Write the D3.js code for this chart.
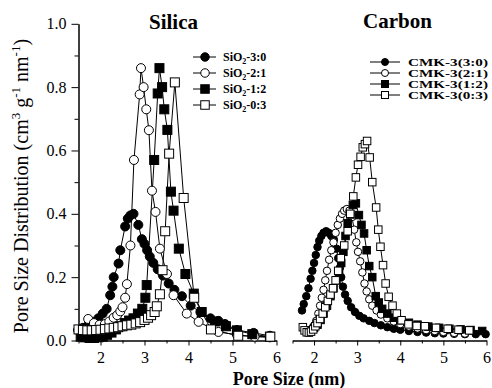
<!DOCTYPE html>
<html>
<head>
<meta charset="utf-8">
<script src="https://cdn.jsdelivr.net/npm/d3@7"></script>
<style>
  body { margin: 0; background: #fff; }
  svg { display: block; }
  svg text { font-family: "Liberation Serif", "DejaVu Serif", "Times New Roman", Times, serif; fill: #000; }
</style>
</head>
<body>
<svg id="chart" width="492" height="388"></svg>
<script>
// ---- data: [pore size nm, distribution] ----
const sio2_30 = [[1.49,0.033],[1.6,0.04],[1.72,0.048],[1.85,0.058],[1.95,0.07],[2.05,0.085],[2.14,0.10],[2.22,0.143],[2.27,0.17],[2.3,0.2],[2.41,0.243],[2.45,0.285],[2.56,0.36],[2.62,0.385],[2.68,0.395],[2.75,0.40],[2.86,0.365],[2.94,0.32],[3.0,0.305],[3.06,0.285],[3.12,0.265],[3.2,0.245],[3.3,0.225],[3.42,0.205],[3.55,0.18],[3.68,0.16],[3.85,0.14],[4.05,0.11],[4.27,0.09],[4.5,0.07],[4.68,0.062],[4.83,0.052],[5.1,0.033],[5.48,0.024],[5.85,0.015]];
const sio2_21 = [[1.72,0.068],[1.85,0.055],[1.98,0.05],[2.1,0.052],[2.2,0.06],[2.3,0.072],[2.38,0.08],[2.45,0.092],[2.5,0.105],[2.56,0.135],[2.6,0.178],[2.68,0.30],[2.76,0.57],[2.89,0.777],[2.92,0.86],[2.98,0.80],[3.04,0.73],[3.1,0.664],[3.17,0.473],[3.25,0.406],[3.35,0.29],[3.51,0.21],[3.66,0.143],[3.96,0.085],[4.23,0.059],[4.68,0.027],[5.1,0.018],[5.5,0.012],[5.85,0.01]];
const sio2_12 = [[1.55,0.012],[1.65,0.01],[1.75,0.008],[1.85,0.008],[1.95,0.01],[2.05,0.012],[2.15,0.018],[2.25,0.025],[2.35,0.035],[2.45,0.045],[2.55,0.055],[2.65,0.063],[2.75,0.07],[2.85,0.085],[2.95,0.1],[3.02,0.135],[3.05,0.175],[3.22,0.57],[3.3,0.78],[3.34,0.86],[3.4,0.8],[3.45,0.73],[3.52,0.665],[3.6,0.47],[3.66,0.41],[3.78,0.29],[3.93,0.21],[4.12,0.148],[4.3,0.09],[4.6,0.06],[4.85,0.045],[5.1,0.032],[5.45,0.02],[5.85,0.012]];
const sio2_03 = [[1.5,0.035],[1.6,0.033],[1.7,0.032],[1.8,0.032],[1.9,0.033],[2.0,0.034],[2.1,0.036],[2.2,0.038],[2.3,0.04],[2.4,0.042],[2.5,0.045],[2.6,0.048],[2.7,0.05],[2.8,0.054],[2.9,0.058],[3.0,0.065],[3.08,0.072],[3.15,0.08],[3.23,0.09],[3.28,0.108],[3.35,0.146],[3.41,0.222],[3.47,0.345],[3.56,0.59],[3.69,0.815],[3.89,0.45],[4.13,0.135],[4.51,0.035],[5.13,0.015],[5.86,0.012]];

const cmk_30 = [[1.72,0.095],[1.76,0.115],[1.82,0.14],[1.87,0.165],[1.92,0.195],[1.96,0.22],[2.0,0.245],[2.04,0.27],[2.08,0.295],[2.12,0.315],[2.17,0.33],[2.22,0.34],[2.28,0.345],[2.34,0.34],[2.4,0.33],[2.46,0.318],[2.52,0.29],[2.56,0.26],[2.6,0.23],[2.63,0.2],[2.67,0.17],[2.72,0.145],[2.78,0.125],[2.86,0.105],[2.95,0.09],[3.05,0.078],[3.15,0.07],[3.28,0.062],[3.4,0.055],[3.55,0.048],[3.7,0.042],[3.85,0.037],[4.0,0.034],[4.2,0.03],[4.4,0.027],[4.6,0.025],[4.8,0.023],[5.0,0.022],[5.25,0.021],[5.5,0.02],[5.75,0.02],[5.98,0.02]];
const cmk_21 = [[1.95,0.035],[2.0,0.045],[2.05,0.062],[2.1,0.085],[2.14,0.11],[2.18,0.135],[2.22,0.16],[2.26,0.19],[2.3,0.22],[2.35,0.255],[2.4,0.285],[2.45,0.31],[2.5,0.34],[2.55,0.365],[2.6,0.385],[2.65,0.4],[2.7,0.41],[2.76,0.415],[2.82,0.41],[2.88,0.39],[2.93,0.35],[2.98,0.31],[3.02,0.28],[3.07,0.25],[3.12,0.215],[3.17,0.18],[3.22,0.155],[3.28,0.13],[3.35,0.11],[3.45,0.095],[3.55,0.082],[3.7,0.07],[3.85,0.06],[4.0,0.052],[4.2,0.044],[4.4,0.038],[4.6,0.033],[4.8,0.03],[5.0,0.027],[5.25,0.024],[5.5,0.022]];
const cmk_12 = [[1.85,0.03],[1.92,0.032],[2.0,0.04],[2.08,0.05],[2.15,0.065],[2.22,0.085],[2.3,0.11],[2.38,0.14],[2.45,0.165],[2.52,0.19],[2.58,0.215],[2.63,0.245],[2.68,0.28],[2.73,0.33],[2.78,0.37],[2.84,0.398],[2.9,0.428],[2.97,0.433],[3.04,0.396],[3.1,0.365],[3.16,0.338],[3.22,0.285],[3.28,0.235],[3.35,0.2],[3.43,0.14],[3.5,0.12],[3.58,0.1],[3.7,0.085],[3.85,0.072],[4.0,0.064],[4.2,0.056],[4.4,0.05],[4.65,0.044],[4.9,0.04],[5.14,0.037],[5.4,0.035],[5.63,0.033],[5.9,0.03]];
const cmk_03 = [[1.74,0.042],[1.78,0.032],[1.83,0.026],[1.88,0.025],[1.93,0.028],[1.98,0.035],[2.03,0.045],[2.08,0.055],[2.14,0.068],[2.2,0.085],[2.26,0.105],[2.32,0.125],[2.38,0.145],[2.44,0.165],[2.5,0.19],[2.56,0.22],[2.62,0.26],[2.7,0.3],[2.78,0.345],[2.84,0.4],[2.91,0.455],[2.97,0.515],[3.02,0.555],[3.08,0.58],[3.13,0.61],[3.18,0.62],[3.23,0.63],[3.29,0.578],[3.35,0.5],[3.44,0.42],[3.49,0.35],[3.54,0.296],[3.6,0.238],[3.66,0.18],[3.73,0.138],[3.82,0.11],[3.92,0.085],[4.03,0.064],[4.19,0.051],[4.38,0.046],[4.57,0.045],[4.83,0.04],[5.1,0.037],[5.35,0.034],[5.6,0.032]];

const silicaLabels = ["-3:0", "-2:1", "-1:2", "-0:3"];   // shown after "SiO2"
const carbonLabels = ["CMK-3(3:0)", "CMK-3(2:1)", "CMK-3(1:2)", "CMK-3(0:3)"];
const xTicks = [2, 3, 4, 5, 6];
const xMinor = [1.5, 2.5, 3.5, 4.5, 5.5];
const yTicks = [0, 0.2, 0.4, 0.6, 0.8, 1.0];
const yMinor = [0.1, 0.3, 0.5, 0.7, 0.9];

// marker style for each of the four series (same order in both panels)
const markers = [
    { shape: "circle", fill: "#000" },
    { shape: "circle", fill: "#fff" },
    { shape: "square", fill: "#000" },
    { shape: "square", fill: "#fff" }
];

const svg = d3.select("#chart");
const y = d3.scaleLinear().domain([0, 1]).range([340.5, 23.8]);
const xLeft = d3.scaleLinear().domain([1.5, 6]).range([78.5, 276.5]);
const xRight = d3.scaleLinear().domain([1.5, 6]).range([292.5, 486.5]);

// Draw a marker of the given style at (cx, cy)
function drawMarker(g, m, cx, cy, size) {
    if (m.shape === "circle") {
        g.append("circle")
            .attr("cx", cx).attr("cy", cy).attr("r", size / 2)
            .attr("fill", m.fill).attr("stroke", "#000").attr("stroke-width", 1);
    } else {
        g.append("rect")
            .attr("x", cx - size / 2).attr("y", cy - size / 2)
            .attr("width", size).attr("height", size)
            .attr("fill", m.fill).attr("stroke", "#000").attr("stroke-width", 1);
    }
}

// Draw one panel: x axis, lines and markers
function drawPanel(x, seriesList, size) {
    const g = svg.append("g");

    // x-axis with major and minor ticks
    g.append("g")
        .attr("transform", `translate(0, ${y(0)})`)
        .call(d3.axisBottom(x).tickValues(xTicks).tickFormat(d3.format("d"))
            .tickSize(5).tickSizeOuter(0).tickPadding(6))
        .attr("font-family", null)
        .call(a => a.selectAll("text").attr("font-size", "16px"));
    g.append("g")
        .attr("transform", `translate(0, ${y(0)})`)
        .call(d3.axisBottom(x).tickValues(xMinor).tickSize(3).tickSizeOuter(0).tickFormat(""));

    const line = d3.line().x(d => x(d[0])).y(d => y(d[1]));

    seriesList.forEach(data => {
        g.append("path")
            .datum(data)
            .attr("d", line)
            .attr("fill", "none")
            .attr("stroke", "#000")
            .attr("stroke-width", 1);
    });
    seriesList.forEach((data, i) => {
        const mg = g.append("g");
        data.forEach(d => drawMarker(mg, markers[i], x(d[0]), y(d[1]), size));
    });
}

// y-axis on the left panel only
svg.append("g")
    .attr("transform", `translate(${xLeft(1.5)}, 0)`)
    .call(d3.axisLeft(y).tickValues(yTicks).tickFormat(d3.format(".1f")).tickSize(7).tickSizeOuter(0).tickPadding(5))
    .attr("font-family", null)
    .call(a => a.selectAll("text").attr("font-size", "16px"));
svg.append("g")
    .attr("transform", `translate(${xLeft(1.5)}, 0)`)
    .call(d3.axisLeft(y).tickValues(yMinor).tickSize(4).tickSizeOuter(0).tickFormat(""));

drawPanel(xLeft, [sio2_30, sio2_21, sio2_12, sio2_03], 9);
drawPanel(xRight, [cmk_30, cmk_21, cmk_12, cmk_03], 7.5);

// Panel titles
svg.append("text")
    .attr("x", 173.5).attr("y", 29)
    .attr("text-anchor", "middle")
    .attr("font-size", "21px").attr("font-weight", "bold")
    .text("Silica");
svg.append("text")
    .attr("x", 397.5).attr("y", 28)
    .attr("text-anchor", "middle")
    .attr("font-size", "21px").attr("font-weight", "bold")
    .text("Carbon");

// Left legend
silicaLabels.forEach((lab, i) => {
    const ly = 57 + i * 16;
    svg.append("line")
        .attr("x1", 193).attr("x2", 216).attr("y1", ly).attr("y2", ly)
        .attr("stroke", "#000");
    drawMarker(svg, markers[i], 205, ly, 8.5);
    const t = svg.append("text")
        .attr("x", 223).attr("y", ly + 4)
        .attr("font-size", "12px").attr("font-weight", "bold");
    t.append("tspan").text("SiO");
    t.append("tspan").attr("font-size", "8px").attr("dy", 3).text("2");
    t.append("tspan").attr("dy", -3).text(lab);
});

// Right legend
carbonLabels.forEach((lab, i) => {
    const ly = 62 + i * 11;
    svg.append("line")
        .attr("x1", 370).attr("x2", 400).attr("y1", ly).attr("y2", ly)
        .attr("stroke", "#000");
    drawMarker(svg, markers[i], 385, ly, 7);
    svg.append("text")
        .attr("x", 408).attr("y", ly + 3.5)
        .attr("font-size", "10.5px").attr("font-weight", "bold")
        .attr("textLength", 80).attr("lengthAdjust", "spacingAndGlyphs")
        .text(lab);
});

// x-axis label
svg.append("text")
    .attr("x", 289).attr("y", 385)
    .attr("text-anchor", "middle")
    .attr("font-size", "18px").attr("font-weight", "bold")
    .text("Pore Size (nm)");

// y-axis label with superscripts
const yl = svg.append("text")
    .attr("transform", "translate(28, 186) rotate(-90)")
    .attr("text-anchor", "middle")
    .attr("font-size", "20px");
yl.append("tspan").text("Pore Size Distribution (cm");
yl.append("tspan").attr("font-size", "13px").attr("dy", -8).text("3");
yl.append("tspan").attr("dy", 8).text(" g");
yl.append("tspan").attr("font-size", "13px").attr("dy", -8).text("-1");
yl.append("tspan").attr("dy", 8).text(" nm");
yl.append("tspan").attr("font-size", "13px").attr("dy", -8).text("-1");
yl.append("tspan").attr("dy", 8).text(")");
</script>
</body>
</html>
